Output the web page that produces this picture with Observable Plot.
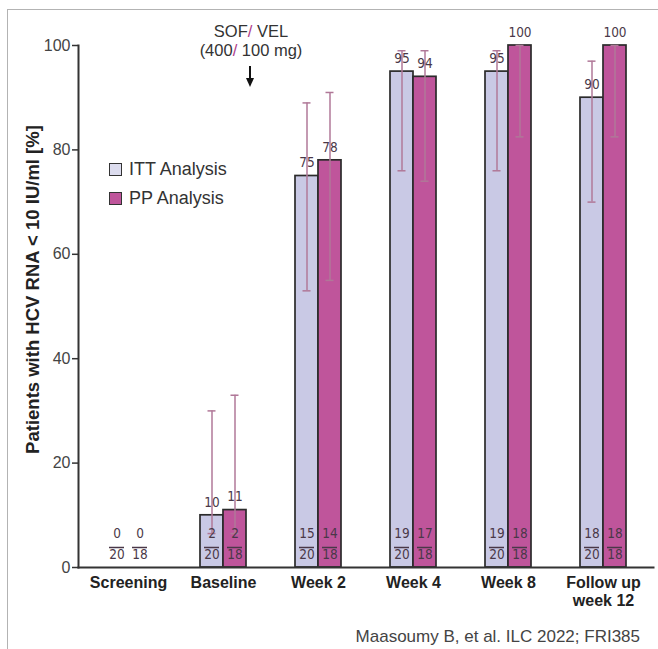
<!DOCTYPE html>
<html><head><meta charset="utf-8">
<script src="https://cdn.jsdelivr.net/npm/d3@7"></script>
<script src="https://cdn.jsdelivr.net/npm/@observablehq/plot@0.6"></script>
<style>
body{margin:0;background:#fff;}
#wrap{position:relative;width:658px;height:649px;overflow:hidden;font-family:"Liberation Sans",Arial,sans-serif;background:#fff;}
#chart{position:absolute;left:0;top:0;}
.frameTop{position:absolute;left:7px;top:9px;width:651px;height:0;border-top:1.5px solid #b3b3b3;}
.frameLeft{position:absolute;left:7px;top:9px;width:0;height:640px;border-left:1.5px solid #b3b3b3;}
.legend{position:absolute;left:109px;top:155px;font-size:18px;color:#333;line-height:29px;}
.legend .sw{display:inline-block;width:11px;height:11px;border:1.6px solid #333;vertical-align:-1px;margin-right:7px;}
.annot{position:absolute;left:190px;top:22px;width:122px;text-align:center;font-size:16.5px;color:#333;line-height:19px;}
.annot .sl{color:#b0408a;}
.arrow{position:absolute;left:245px;top:66px;}
.caption{position:absolute;right:18px;top:627px;font-size:17px;color:#444;}
</style>
</head><body>
<div id="wrap">
  <div class="frameTop"></div>
  <div class="frameLeft"></div>
  <div id="chart"></div>
  <div class="annot">SOF<span class="sl">/</span> VEL<br>(400<span class="sl">/</span> 100 mg)</div>
  <svg class="arrow" width="10" height="22"><line x1="5" y1="0" x2="5" y2="14" stroke="#111" stroke-width="2"/><path d="M1,12 L9,12 L5,21 Z" fill="#111"/></svg>
  <div id="legend" class="legend"></div>
  <div class="caption">Maasoumy B, et al. ILC 2022; FRI385</div>
</div>
<script>
const timepoints = ["Screening", "Baseline", "Week 2", "Week 4", "Week 8", "Follow up\nweek 12"];
const seriesNames = ["ITT Analysis", "PP Analysis"];
const ittValues = [0, 10, 75, 95, 95, 90];
const ppValues = [0, 11, 78, 94, 100, 100];
const ittResponders = [0, 2, 15, 19, 19, 18];
const ppResponders = [0, 2, 14, 17, 18, 18];
const ittTotals = [20, 20, 20, 20, 20, 20];
const ppTotals = [18, 18, 18, 18, 18, 18];
const ittLower = [null, 6.5, 53, 76, 76, 70];
const ittUpper = [null, 30, 89, 99, 99, 97];
const ppLower = [null, 6.5, 55, 74, 82.5, 82.5];
const ppUpper = [null, 33, 91, 99, 100, 100];
const yTicks = [0, 20, 40, 60, 80, 100];
const yLabel = "Patients with HCV RNA < 10 IU/ml [%]";

const colors = {"ITT Analysis": "#c9c9e5", "PP Analysis": "#bf559b"};
const errColor = "#b07898";
const labelColor = "#4a3848";

function rows(series, vals, resp, tot, lo, hi) {
  return timepoints.map((t, i) => ({time: t, series, value: vals[i], n: resp[i], d: tot[i], lo: lo[i], hi: hi[i]}));
}
const itt = rows(seriesNames[0], ittValues, ittResponders, ittTotals, ittLower, ittUpper);
const pp = rows(seriesNames[1], ppValues, ppResponders, ppTotals, ppLower, ppUpper);

const W = 658, H = 620, mL = 78, mR = 5, mT = 45, mB = 53;
const pInner = 0.52, pOuter = 0.26;
const step = (W - mL - mR) / (timepoints.length - pInner + 2 * pOuter);
const bw = step * (1 - pInner);
const half = bw / 2;

function seg(c, w) { return {insetLeft: bw / 2 + c - w / 2, insetRight: bw / 2 - c - w / 2}; }

const valFont = {fontFamily: "'DejaVu Sans Condensed','DejaVu Sans',sans-serif", fontSize: 13.5, fill: labelColor};

function seriesMarks(data, c, barInsets) {
  const withErr = data.filter(d => d.lo != null);
  return [
    Plot.barY(data.filter(d => d.value > 0), {x: "time", y: "value", fill: d => colors[d.series], stroke: "#2b2b2b", strokeWidth: 1.7, ...barInsets}),
    Plot.ruleX(withErr, {x: "time", y1: "lo", y2: "hi", dx: c, stroke: errColor, strokeWidth: 1.5}),
    Plot.tickY(withErr, {x: "time", y: "hi", stroke: errColor, strokeWidth: 1.5, ...seg(c, 8)}),
    Plot.tickY(withErr, {x: "time", y: "lo", stroke: errColor, strokeWidth: 1.5, ...seg(c, 8)}),
    Plot.text(data.filter(d => d.value > 0), {x: "time", y: "value", text: d => String(d.value), dx: c, dy: -13, ...valFont}),
    Plot.text(data, {x: "time", frameAnchor: "bottom", text: d => String(d.n), dx: c, dy: -30, ...valFont}),
    Plot.tickY(data, {x: "time", y: d => 0, dy: -20, stroke: labelColor, strokeWidth: 1.5, ...seg(c, 15)}),
    Plot.text(data, {x: "time", frameAnchor: "bottom", text: d => String(d.d), dx: c, dy: -9, ...valFont})
  ];
}

const plot = Plot.plot({
  width: W, height: H,
  marginLeft: mL, marginRight: mR, marginTop: mT, marginBottom: mB,
  style: {fontFamily: "'Liberation Sans', Arial, sans-serif", background: "transparent", overflow: "visible"},
  x: {domain: timepoints, paddingInner: pInner, paddingOuter: pOuter, label: null},
  y: {domain: [0, 100], label: null},
  marks: [
    ...seriesMarks(itt, -half / 2, {insetRight: half}),
    ...seriesMarks(pp, half / 2, {insetLeft: half}),
    Plot.frame({anchor: "left", stroke: "#333", strokeWidth: 2}),
    Plot.frame({anchor: "bottom", stroke: "#333", strokeWidth: 2}),
    Plot.axisY({ticks: yTicks, tickSize: 6, tickPadding: 2, fontSize: 16, stroke: "#333", strokeWidth: 1.5, fill: "#444", label: null}),
    Plot.axisX({tickSize: 0, tickPadding: 8, fontSize: 16, fontWeight: "bold", lineHeight: 1.12, fill: "#222", label: null}),
    Plot.text([yLabel], {frameAnchor: "left", text: d => d, rotate: -90, textAnchor: "middle", dx: -45, dy: -17, fontSize: 18.5, fontWeight: "bold", fill: "#222"})
  ]
});
document.getElementById("chart").appendChild(plot);

const legend = document.getElementById("legend");
seriesNames.forEach(s => {
  const row = document.createElement("div");
  const sw = document.createElement("span");
  sw.className = "sw";
  sw.style.background = s === "ITT Analysis" ? "#dcdcee" : colors[s];
  row.appendChild(sw);
  row.appendChild(document.createTextNode(s));
  legend.appendChild(row);
});
</script>
</body></html>
